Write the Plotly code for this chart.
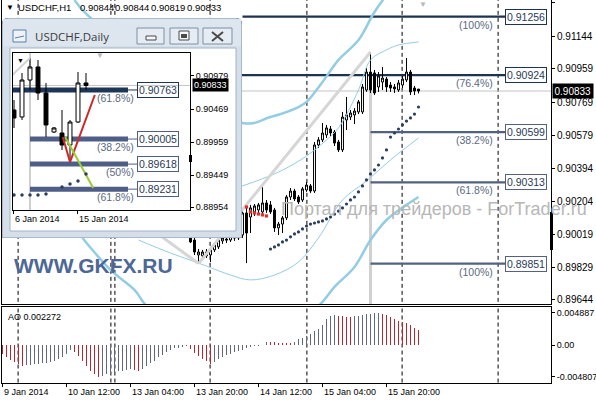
import plotly.graph_objects as go

# ---------------- data : USDCHF H1 ----------------
hour_idx = list(range(47, 105))
h_open = [0.90008, 0.89985, 0.89900, 0.89895, 0.89917, 0.89900, 0.89929, 0.89946, 0.89980, 0.89991,
          0.89985, 0.90003, 0.89997, 0.90014, 0.90139, 0.90116, 0.90145, 0.90156, 0.90145, 0.90196,
          0.90185, 0.90156, 0.90054, 0.90076, 0.90111, 0.90230, 0.90264, 0.90230, 0.90213, 0.90270,
          0.90293, 0.90264, 0.90526, 0.90555, 0.90583, 0.90617, 0.90600, 0.90543, 0.90498, 0.90668,
          0.90685, 0.90697, 0.90714, 0.90714, 0.90839, 0.90941, 0.90936, 0.90856, 0.90884, 0.90901,
          0.90867, 0.90856, 0.90839, 0.90867, 0.90896, 0.90941, 0.90850, 0.90844]
h_high = [0.90020, 0.89997, 0.89934, 0.89929, 0.89934, 0.89946, 0.89968, 0.90003, 0.90014, 0.90020,
          0.90025, 0.90031, 0.90037, 0.90150, 0.90168, 0.90185, 0.90190, 0.90196, 0.90287, 0.90213,
          0.90207, 0.90168, 0.90088, 0.90122, 0.90241, 0.90281, 0.90276, 0.90241, 0.90287, 0.90315,
          0.90304, 0.90543, 0.90571, 0.90651, 0.90640, 0.90634, 0.90611, 0.90555, 0.90714, 0.90799,
          0.90725, 0.90736, 0.90782, 0.90873, 0.90964, 0.91055, 0.90953, 0.90941, 0.90970, 0.90913,
          0.90884, 0.90873, 0.90896, 0.90919, 0.91021, 0.90953, 0.90862, 0.90844]
h_low = [0.89968, 0.89900, 0.89851, 0.89883, 0.89883, 0.89860, 0.89917, 0.89934, 0.89963, 0.89968,
         0.89974, 0.89980, 0.89985, 0.89997, 0.89854, 0.90025, 0.90122, 0.90133, 0.90133, 0.90139,
         0.90133, 0.90031, 0.90014, 0.90025, 0.90099, 0.90213, 0.90207, 0.90190, 0.90202, 0.90259,
         0.90253, 0.90253, 0.90509, 0.90543, 0.90566, 0.90577, 0.90520, 0.90486, 0.90486, 0.90611,
         0.90668, 0.90645, 0.90702, 0.90702, 0.90828, 0.90822, 0.90810, 0.90828, 0.90839, 0.90828,
         0.90828, 0.90822, 0.90828, 0.90850, 0.90884, 0.90810, 0.90810, 0.90819]
h_close = [0.89974, 0.89917, 0.89917, 0.89917, 0.89895, 0.89929, 0.89957, 0.89985, 0.89997, 0.89985,
           0.90008, 0.89997, 0.90014, 0.90139, 0.90025, 0.90168, 0.90179, 0.90185, 0.90196, 0.90156,
           0.90145, 0.90054, 0.90076, 0.90111, 0.90230, 0.90264, 0.90219, 0.90202, 0.90276, 0.90298,
           0.90264, 0.90526, 0.90555, 0.90594, 0.90623, 0.90594, 0.90537, 0.90498, 0.90685, 0.90697,
           0.90708, 0.90719, 0.90771, 0.90856, 0.90941, 0.90839, 0.90822, 0.90919, 0.90907, 0.90856,
           0.90850, 0.90845, 0.90879, 0.90901, 0.90941, 0.90828, 0.90833, 0.90833]

band_thick_upper_idx = [18, 21, 60, 67, 74, 76, 80, 84, 89, 93, 97]
band_thick_upper = [0.91351, 0.91271, 0.90651, 0.90685, 0.90742, 0.90771, 0.90884, 0.91010, 0.91123, 0.91283, 0.91408]
band_thick_lower_idx = [20, 27, 33, 36, 49, 64, 79, 83, 88, 92, 96, 101, 104]
band_thick_lower = [0.89997, 0.89815, 0.89701, 0.89610, 0.89388, 0.89388, 0.89610, 0.89718, 0.89832, 0.89985, 0.90099, 0.90185, 0.90230]
band_thin_upper_idx = [49, 60, 69, 76, 81, 84, 89, 92, 96, 99, 104]
band_thin_upper = [0.90213, 0.90293, 0.90372, 0.90463, 0.90555, 0.90623, 0.90839, 0.91010, 0.91067, 0.91095, 0.91112]
band_thin_lower_idx = [34, 42, 49, 57, 62, 68, 74, 79, 85, 91, 97, 104]
band_thin_lower = [0.89985, 0.89911, 0.89854, 0.89786, 0.89758, 0.89786, 0.89860, 0.89997, 0.90213, 0.90321, 0.90441, 0.90566]

trend_up_idx = [49, 92]
trend_up = [0.89851, 0.91055]
trend_down_idx = [15, 49]
trend_down = [0.90418, 0.89851]

sar_idx = list(range(67, 105))
sar = [0.89934, 0.89946, 0.89957, 0.89974, 0.89985, 0.90003, 0.90020, 0.90031, 0.90048, 0.90065,
       0.90076, 0.90082, 0.90088, 0.90094, 0.90105, 0.90116, 0.90133, 0.90150, 0.90168, 0.90190,
       0.90213, 0.90230, 0.90259, 0.90293, 0.90327, 0.90361, 0.90384, 0.90412, 0.90452, 0.90498,
       0.90571, 0.90594, 0.90617, 0.90640, 0.90662, 0.90680, 0.90702, 0.90742]
red_dot_idx = [61, 62, 63, 64, 65, 66]
red_dots = [0.90173, 0.90145, 0.90139, 0.90133, 0.90128, 0.90122]

ao_idx = list(range(0, 105))
ao = [-0.0014, -0.0018, -0.0023, -0.0026, -0.0029, -0.0032,
      -0.0031, -0.0030, -0.00295, -0.0029, -0.0028, -0.0027, -0.0026, -0.0024, -0.0022, -0.0018, -0.0013, -0.0008,
      -0.0011, -0.0017, -0.0024, -0.0032, -0.0039, -0.0045, -0.00481,
      -0.0047, -0.0045, -0.0043, -0.0041, -0.0040, -0.0039, -0.0038, -0.0037,
      -0.0038, -0.0039,
      -0.0036, -0.0032, -0.0028, -0.0024, -0.0019, -0.0015, -0.0011, -0.0008, -0.0005, -0.0004, -0.0003, -0.0002,
      -0.0006, -0.0012, -0.0017, -0.0021, -0.0025, -0.0029,
      -0.0026, -0.0022, -0.0019, -0.0016, -0.0013, -0.0011, -0.0009, -0.0007, -0.0005, -0.0003, -0.0002, -0.0001, 0.00005, 0.0005,
      0.00045, 0.0004, 0.00038, 0.00035, 0.0003, 0.00028,
      0.0005, 0.0009, 0.0011, 0.0013, 0.0017, 0.0021, 0.0025, 0.0031, 0.0040, 0.0045, 0.0046,
      0.0045, 0.0044, 0.00435, 0.0043,
      0.0044, 0.0045, 0.0046, 0.0047, 0.0048, 0.00485, 0.004887,
      0.0048, 0.0046, 0.0043, 0.0040, 0.0037, 0.0035, 0.0033, 0.0030, 0.0026, 0.002272]

day_separators = [3.9, 27.1, 28.1, 51.9, 76.1, 99.9, 123.9]
time_tick_idx = [0, 16, 32, 48, 64, 80, 96]
time_tick_text = ["9 Jan 2014", "10 Jan 12:00", "13 Jan 04:00", "13 Jan 20:00",
                  "14 Jan 12:00", "15 Jan 04:00", "15 Jan 20:00"]
price_ticks = [0.91334, 0.91144, 0.90959, 0.90769, 0.90579, 0.90394, 0.90204, 0.90019, 0.89829, 0.89644]
ao_ticks = [0.004887, 0.0, -0.004807]
ao_tick_text = ["0.004887", "0.00", "-0.004807"]

fib_main_levels = [0.91256, 0.90924, 0.90599, 0.90313, 0.89851]
fib_main_pct = ["(100%)", "(76.4%)", "(38.2%)", "(61.8%)", "(100%)"]
fib_main_start = [60, -1, 92, 92, 92]
fib_anchor_idx = 92
last_price = 0.90833
header_symbol = "USDCHF,H1"
header_ohlc = ["0.90844", "0.90844", "0.90819", "0.90833"]
ao_last = "0.002272"

# ---------------- data : USDCHF Daily (inset) ----------------
d_idx = list(range(10))
d_open = [0.90454, 0.90346, 0.90917, 0.91118, 0.90716, 0.90114, 0.90098, 0.89913, 0.90268, 0.90871]
d_high = [0.90608, 0.91025, 0.91257, 0.91226, 0.90871, 0.90191, 0.90454, 0.90299, 0.91041, 0.91025]
d_low = [0.90176, 0.90299, 0.90763, 0.90608, 0.90037, 0.90098, 0.89836, 0.89681, 0.90253, 0.90763]
d_close = [0.90330, 0.90917, 0.91118, 0.90716, 0.90222, 0.90176, 0.89913, 0.90268, 0.90871, 0.90833]
d_sar_idx = [0, 1, 2, 3, 4, 6, 7, 8, 9]
d_sar = [0.89140, 0.89140, 0.89140, 0.89140, 0.89156, 0.89264, 0.89310, 0.89357, 0.89465]
d_red_idx = [6.1, 7.0, 10.1]
d_red = [0.90037, 0.89650, 0.90685]
d_green_idx = [6.4, 9.9]
d_green = [0.90037, 0.89249]
d_fib_levels = [0.90763, 0.90005, 0.89618, 0.89231]
d_fib_pct = ["(61.8%)", "(38.2%)", "(50%)", "(61.8%)"]
d_fib_start = [-0.5, 2, 2, 2]
d_fib_end = 14.25
d_price_ticks = [0.90979, 0.90469, 0.89959, 0.89449, 0.88954]
d_date_idx = [0, 8]
d_date_text = ["6 Jan 2014", "15 Jan 2014"]

# ---------------- geometry ----------------
W, H = 596, 400
ML, MR, MT, MB = 2, 45, 0, 17
PW, PH = W - ML - MR, H - MT - MB


def px_x(px):
    return (px - ML) / PW


def px_y(py):
    return (MT + PH - py) / PH


FONT = "Liberation Sans"
NAVY = "#1e3350"
SLATE = "#52627f"
RED = "#b5262e"
GREY = "#5e6a7c"

fig = go.Figure()

# bands and trend lines (main)
for xs, ys, w in [(band_thick_upper_idx, band_thick_upper, 2.5), (band_thick_lower_idx, band_thick_lower, 2.5),
                  (band_thin_upper_idx, band_thin_upper, 1), (band_thin_lower_idx, band_thin_lower, 1)]:
    fig.add_trace(go.Scatter(x=xs, y=ys, mode="lines", line=dict(color="#93cde4", width=w, shape="spline"),
                             xaxis="x", yaxis="y", hoverinfo="skip"))
for xs, ys in [(trend_up_idx, trend_up), (trend_down_idx, trend_down)]:
    fig.add_trace(go.Scatter(x=xs, y=ys, mode="lines", line=dict(color="#d6d6d6", width=3),
                             xaxis="x", yaxis="y", hoverinfo="skip"))

fig.add_trace(go.Candlestick(x=hour_idx, open=h_open, high=h_high, low=h_low, close=h_close,
                             increasing=dict(line=dict(color="black", width=1), fillcolor="white"),
                             decreasing=dict(line=dict(color="black", width=1), fillcolor="black"),
                             whiskerwidth=0, xaxis="x", yaxis="y", hoverinfo="skip"))
fig.add_trace(go.Scatter(x=sar_idx, y=sar, mode="markers", marker=dict(color="#2c3e5c", size=3.2),
                         xaxis="x", yaxis="y", hoverinfo="skip"))
fig.add_trace(go.Scatter(x=red_dot_idx, y=red_dots, mode="markers", marker=dict(color="#e03030", size=3.2, symbol="square"),
                         xaxis="x", yaxis="y", hoverinfo="skip"))

# AO histogram
ao_colors = [RED if (k == 0 or ao[k] < ao[k - 1]) else GREY for k in range(len(ao))]
fig.add_trace(go.Bar(x=ao_idx, y=ao, width=0.25, marker=dict(color=ao_colors, line=dict(width=0)),
                     xaxis="x2", yaxis="y2", hoverinfo="skip"))

# inset daily chart
fig.add_trace(go.Scatter(x=[-1, 2], y=[0.90900, 0.91257], mode="lines", line=dict(color="#d2d2d2", width=2),
                         xaxis="x4", yaxis="y4", hoverinfo="skip"))
fig.add_trace(go.Candlestick(x=d_idx, open=d_open, high=d_high, low=d_low, close=d_close,
                             increasing=dict(line=dict(color="black", width=1), fillcolor="white"),
                             decreasing=dict(line=dict(color="black", width=1), fillcolor="black"),
                             whiskerwidth=0, xaxis="x4", yaxis="y4", hoverinfo="skip"))
fig.add_trace(go.Scatter(x=d_red_idx, y=d_red, mode="lines", line=dict(color="#cc2a2a", width=2),
                         xaxis="x4", yaxis="y4", hoverinfo="skip"))
fig.add_trace(go.Scatter(x=d_green_idx, y=d_green, mode="lines", line=dict(color="#9acd32", width=2),
                         xaxis="x4", yaxis="y4", hoverinfo="skip"))
fig.add_trace(go.Scatter(x=d_sar_idx, y=d_sar, mode="markers", marker=dict(color="#2c3e5c", size=3.5),
                         xaxis="x4", yaxis="y4", hoverinfo="skip"))

shapes = []
# day separators
for s in day_separators:
    shapes.append(dict(type="line", xref="x", yref="y", x0=s, x1=s, y0=0.88, y1=0.93,
                       line=dict(color="black", width=1, dash="4px,3px"), layer="below"))
    shapes.append(dict(type="line", xref="x2", yref="y2", x0=s, x1=s, y0=-0.01, y1=0.01,
                       line=dict(color="black", width=1, dash="4px,3px"), layer="below"))
# current price line
shapes.append(dict(type="line", xref="x", yref="y", x0=-2, x1=140, y0=last_price, y1=last_price,
                   line=dict(color="#c4c4c4", width=1), layer="below"))
# fib anchor vertical
shapes.append(dict(type="line", xref="x", yref="y", x0=fib_anchor_idx, x1=fib_anchor_idx, y0=0.8950, y1=0.90839,
                   line=dict(color="#d0d0d0", width=3), layer="below"))
fib_end = 125.625
for k, lvl in enumerate(fib_main_levels):
    col = NAVY if k < 2 else SLATE
    shapes.append(dict(type="line", xref="x", yref="y", x0=fib_main_start[k], x1=fib_end, y0=lvl, y1=lvl,
                       line=dict(color=col, width=2.2), layer="below"))
# black marker on main axis
shapes.append(dict(type="rect", xref="paper", yref="paper", x0=px_x(550), x1=px_x(553), y0=px_y(250), y1=px_y(212),
                   fillcolor="black", line=dict(width=0), layer="above"))

# inset window frame (x3/y3 are pixel-like coordinates inside the window)
frame = "M 2,238 L 2,25 Q 2,18 9,18 L 235,18 Q 242,18 242,25 L 242,238 Z"
shapes.append(dict(type="path", xref="x3", yref="y3", path=frame, fillcolor="#d5dfea",
                   line=dict(color="#7f93a8", width=1), layer="below"))
shapes.append(dict(type="rect", xref="x3", yref="y3", x0=3, x1=241, y0=19, y1=46, fillcolor="#dde6ef",
                   line=dict(width=0), layer="below"))
shapes.append(dict(type="rect", xref="x3", yref="y3", x0=10, x1=236, y0=48, y1=231, fillcolor="white",
                   line=dict(color="#a3b2c3", width=1), layer="below"))
for bx0, bx1 in [(137, 164), (170, 198), (203, 232)]:
    shapes.append(dict(type="rect", xref="x3", yref="y3", x0=bx0, x1=bx1, y0=28, y1=44, fillcolor="#e6ecf3",
                       line=dict(color="#7f8fa3", width=1), layer="below"))
shapes.append(dict(type="rect", xref="x3", yref="y3", x0=146, x1=156, y0=36, y1=40, fillcolor="#f4f6f8",
                   line=dict(color="#4a4a4a", width=1), layer="below"))
shapes.append(dict(type="rect", xref="x3", yref="y3", x0=179, x1=189, y0=31, y1=40, fillcolor="#f4f6f8",
                   line=dict(color="#4a4a4a", width=1), layer="below"))
shapes.append(dict(type="rect", xref="x3", yref="y3", x0=181, x1=187, y0=34, y1=38, fillcolor="#4a4a4a",
                   line=dict(width=0), layer="below"))
shapes.append(dict(type="line", xref="x3", yref="y3", x0=212, x1=223, y0=32, y1=41,
                   line=dict(color="#4a4a4a", width=2), layer="below"))
shapes.append(dict(type="line", xref="x3", yref="y3", x0=212, x1=223, y0=41, y1=32,
                   line=dict(color="#4a4a4a", width=2), layer="below"))
shapes.append(dict(type="rect", xref="x3", yref="y3", x0=13, x1=26, y0=30, y1=42, fillcolor="#eef3f8",
                   line=dict(color="#5b7fa8", width=1), layer="below"))
shapes.append(dict(type="line", xref="x3", yref="y3", x0=15, x1=24, y0=38, y1=36,
                   line=dict(color="#5b7fa8", width=1), layer="below"))

# inset chart decorations
shapes.append(dict(type="line", xref="x4", yref="y4", x0=-1, x1=30, y0=last_price, y1=last_price,
                   line=dict(color="#c4c4c4", width=1), layer="below"))
shapes.append(dict(type="line", xref="x4", yref="y4", x0=2, x1=2, y0=0.88, y1=0.92,
                   line=dict(color="#cfcfcf", width=2), layer="below"))
for k, lvl in enumerate(d_fib_levels):
    col = "#1d3557" if k == 0 else "#4f5e87"
    shapes.append(dict(type="line", xref="x4", yref="y4", x0=d_fib_start[k], x1=d_fib_end, y0=lvl, y1=lvl,
                       line=dict(color=col, width=5), layer="below"))
    shapes.append(dict(type="line", xref="x4", yref="y4", x0=d_fib_end, x1=15.4, y0=lvl, y1=lvl,
                       line=dict(color=col, width=1), layer="below"))
shapes.append(dict(type="rect", xref="paper", yref="paper", x0=px_x(189), x1=px_x(192), y0=px_y(162), y1=px_y(155),
                   fillcolor="black", line=dict(width=0), layer="above"))

ann = []


def note(px, py, text, size=9, color="black", anchor="left", **kw):
    ann.append(dict(xref="paper", yref="paper", x=px_x(px), y=px_y(py), text=text, showarrow=False,
                    xanchor=anchor, yanchor="middle", font=dict(family=kw.pop("family", FONT), size=size, color=color), **kw))


note(4, 8, "▼", size=8)
note(16, 8, header_symbol, size=9.5)
for hx, hv in zip([78, 113, 149, 185], header_ohlc):
    note(hx, 8, hv, size=9.5)
note(423, 5, "▼", size=8, color="#b8b8b8", anchor="center")
note(6, 317, "AO " + ao_last, size=9)
note(12, 266, "<b>WWW.GKFX.RU</b>", size=21, color="#4d6796")
note(279, 209, "Портал для трейдеров - ForTrader.ru", size=18, color="#b7b7b7")

# time axis labels (left aligned at their tick like MT4)
for t, txt in zip(time_tick_idx, time_tick_text):
    ann.append(dict(xref="x2", yref="paper", x=t - 0.1, y=0, yanchor="top", xanchor="left", yshift=-2,
                    text=txt, showarrow=False, font=dict(family=FONT, size=9, color="black")))

# fib labels main
for k, lvl in enumerate(fib_main_levels):
    col = NAVY if k < 2 else SLATE
    ann.append(dict(xref="x", yref="y", x=fib_end, y=lvl, xanchor="left", yanchor="middle", text=f"{lvl:.5f}",
                    showarrow=False, bordercolor=col, borderwidth=1, borderpad=1, bgcolor="rgba(255,255,255,0)",
                    font=dict(family=FONT, size=10.5, color="#2a3a55")))
    ann.append(dict(xref="x", yref="y", x=123.1, y=lvl, xanchor="right", yanchor="middle", yshift=-8,
                    text=fib_main_pct[k], showarrow=False, font=dict(family=FONT, size=10.5, color="#5b6a80")))
# current price box main
ann.append(dict(xref="paper", yref="y", x=1, xshift=1, y=last_price, xanchor="left", yanchor="middle",
                text=f"{last_price:.5f}", showarrow=False, bgcolor="black", borderpad=1.5,
                font=dict(family=FONT, size=10, color="white")))

# inset texts
note(33, 36, "USDCHF,Daily", size=11.5, color="#3a3a3a", family="Open Sans")
note(20, 60, "▼", size=7, anchor="center")
note(100, 55, "▼", size=8, color="#b8b8b8", anchor="center")
for k, lvl in enumerate(d_fib_levels):
    col = "#1d3557" if k == 0 else "#4f5e87"
    ann.append(dict(xref="x4", yref="y4", x=15.375, y=lvl, xanchor="left", yanchor="middle", text=f"{lvl:.5f}",
                    showarrow=False, bordercolor=col, borderwidth=1, borderpad=1,
                    font=dict(family=FONT, size=10.5, color="#2a3a55")))
    ann.append(dict(xref="x4", yref="y4", x=15.3, y=lvl, xanchor="right", yanchor="middle", yshift=-8,
                    text=d_fib_pct[k], showarrow=False, font=dict(family=FONT, size=10.5, color="#5b6a80")))
for t, txt in zip(d_date_idx, d_date_text):
    ann.append(dict(xref="x4", yref="y4 domain", x=t - 0.1, y=0, yanchor="top", xanchor="left", yshift=-2,
                    text=txt, showarrow=False, font=dict(family=FONT, size=9, color="black")))
ann.append(dict(xref="x4 domain", yref="y4", x=1, xshift=2, y=last_price, xanchor="left", yanchor="middle",
                text=f"{last_price:.5f}", showarrow=False, bgcolor="black", borderpad=1,
                font=dict(family=FONT, size=9, color="white")))

axis_common = dict(showgrid=False, zeroline=False, showline=True, mirror=True, linecolor="black", linewidth=1,
                   tickcolor="black")
f9 = dict(family=FONT, size=9, color="black")
f10 = dict(family=FONT, size=10, color="black")
main_lo = px_y(304)
ao_hi = px_y(307)

fig.update_layout(
    width=W, height=H, margin=dict(l=ML, r=MR, t=MT, b=MB, pad=0),
    paper_bgcolor="white", plot_bgcolor="white", showlegend=False, hovermode=False,
    xaxis=dict(domain=[0, 1], range=[-0.125, 137.125], anchor="y", showticklabels=False, ticks="",
               rangeslider=dict(visible=False), **axis_common),
    yaxis=dict(domain=[main_lo, 1], range=[0.89621, 0.91351], anchor="x", side="right",
               tickvals=price_ticks, ticktext=[f"{v:.5f}" for v in price_ticks], ticks="outside", ticklen=3,
               tickfont=f10, **axis_common),
    xaxis2=dict(domain=[0, 1], range=[-0.125, 137.125], anchor="y2", tickvals=[t - 0.1 for t in time_tick_idx],
                showticklabels=False, ticks="outside", ticklen=3, **axis_common),
    yaxis2=dict(domain=[0, ao_hi], range=[-0.0058, 0.0058], anchor="x2", side="right",
                tickvals=ao_ticks, ticktext=ao_tick_text, ticks="outside", ticklen=3, tickfont=f9, **axis_common),
    xaxis3=dict(domain=[px_x(2), px_x(242)], range=[2, 242], anchor="y3", visible=False),
    yaxis3=dict(domain=[px_y(238), px_y(18)], range=[238, 18], anchor="x3", visible=False),
    xaxis4=dict(domain=[px_x(13), px_x(190)], range=[-0.125, 22], anchor="y4", tickvals=[-0.1, 7.9],
                showticklabels=False, ticks="outside", ticklen=3, rangeslider=dict(visible=False), **axis_common),
    yaxis4=dict(domain=[px_y(210), px_y(53)], range=[0.88909, 0.91334], anchor="x4", side="right",
                tickvals=d_price_ticks, ticktext=[f"{v:.5f}" for v in d_price_ticks], ticks="outside", ticklen=3,
                tickfont=f9, **axis_common),
    shapes=shapes, annotations=ann, bargap=0,
)

fig.write_html("out.html", config={"displayModeBar": False, "staticPlot": True},
               post_script="document.body.style.margin='0px';document.body.style.overflow='hidden';")
